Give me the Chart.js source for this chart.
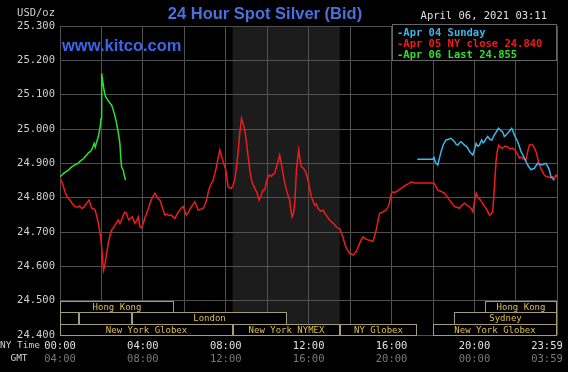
<!DOCTYPE html>
<html><head><meta charset="utf-8">
<script src="https://cdn.jsdelivr.net/npm/chart.js@4"></script>
<style>html,body{margin:0;padding:0;background:#000;overflow:hidden}canvas{display:block}</style>
</head><body><canvas id="c" width="568" height="372"></canvas>
<script>
const titleText = '24 Hour Spot Silver (Bid)';
const unitText = 'USD/oz';
const dateText = 'April 06, 2021 03:11';
const siteText = 'www.kitco.com';
const nyAxisName = 'NY Time';
const gmtAxisName = 'GMT';
const seriesNames = ['Apr 04 Sunday', 'Apr 05 NY close 24.840', 'Apr 06 Last 24.855'];
const nyTimeLabels = ['00:00','04:00','08:00','12:00','16:00','20:00','23:59'];
const gmtTimeLabels = ['04:00','08:00','12:00','16:00','20:00','00:00','03:59'];
const labelHours = [0,4,8,12,16,20,24];

// Apr 04 (Sunday) evening session
const apr04Hours = [17.24,17.6,17.99,18.05,18.1,18.15,18.23,18.31,18.39,18.5,18.63,18.75,18.87,18.95,19.04,19.12,19.2,19.28,19.36,19.44,19.52,19.6,19.68,19.76,19.84,19.92,20.0,20.08,20.16,20.24,20.3,20.35,20.42,20.48,20.56,20.64,20.74,20.84,20.9,20.96,21.06,21.16,21.26,21.36,21.44,21.52,21.6,21.7,21.8,21.87,21.93,22.01,22.09,22.17,22.25,22.33,22.41,22.49,22.57,22.65,22.73,22.81,22.89,22.97,23.05,23.15,23.25,23.35,23.45,23.53,23.61,23.69,23.78,23.86];
const apr04Values = [24.912,24.912,24.912,24.917,24.905,24.900,24.895,24.915,24.934,24.955,24.968,24.970,24.973,24.968,24.963,24.955,24.953,24.960,24.963,24.958,24.953,24.950,24.944,24.935,24.929,24.924,24.940,24.958,24.950,24.953,24.962,24.968,24.960,24.963,24.972,24.978,24.970,24.968,24.976,24.983,24.992,25.002,24.996,24.992,24.978,24.982,24.988,24.995,25.002,24.992,24.983,24.972,24.963,24.948,24.934,24.925,24.915,24.905,24.895,24.888,24.881,24.884,24.885,24.893,24.900,24.897,24.895,24.898,24.900,24.892,24.881,24.861,24.855,24.851];

// Apr 05 full day
const apr05Hours = [0,0.1,0.24,0.36,0.48,0.6,0.72,0.85,0.95,1.04,1.15,1.29,1.4,1.47,1.53,1.62,1.69,1.78,1.85,1.92,1.98,2.06,2.1,2.15,2.2,2.27,2.33,2.41,2.49,2.57,2.65,2.73,2.81,2.89,2.97,3.05,3.13,3.21,3.27,3.33,3.41,3.49,3.55,3.61,3.7,3.78,3.86,3.93,4.02,4.1,4.18,4.26,4.34,4.45,4.58,4.65,4.72,4.82,4.92,5.06,5.15,5.25,5.35,5.46,5.55,5.65,5.78,5.86,5.94,6.02,6.1,6.2,6.3,6.42,6.51,6.6,6.67,6.78,6.91,7.0,7.07,7.15,7.23,7.31,7.39,7.47,7.55,7.63,7.71,7.79,7.87,7.94,8.0,8.06,8.11,8.19,8.27,8.35,8.43,8.51,8.59,8.67,8.76,8.84,8.92,9.0,9.08,9.16,9.24,9.32,9.4,9.5,9.61,9.7,9.8,9.88,9.96,10.04,10.12,10.2,10.28,10.36,10.45,10.52,10.6,10.68,10.76,10.84,10.93,11.0,11.08,11.14,11.2,11.27,11.33,11.37,11.41,11.47,11.52,11.58,11.65,11.73,11.81,11.89,11.97,12.05,12.13,12.21,12.29,12.37,12.45,12.57,12.69,12.77,12.85,12.97,13.09,13.21,13.33,13.41,13.49,13.57,13.65,13.73,13.82,13.9,13.98,14.06,14.14,14.22,14.3,14.38,14.46,14.54,14.62,14.74,14.86,14.98,15.1,15.18,15.26,15.34,15.42,15.5,15.62,15.74,15.82,15.9,15.96,16.02,16.12,16.22,16.34,16.46,16.58,16.7,16.82,16.95,17.1,17.5,18.04,18.12,18.23,18.4,18.55,18.68,18.8,18.92,19.04,19.16,19.28,19.4,19.52,19.64,19.76,19.84,19.92,20.0,20.08,20.14,20.19,20.27,20.35,20.45,20.56,20.64,20.72,20.8,20.88,20.96,21.04,21.1,21.17,21.26,21.36,21.48,21.6,21.72,21.85,21.93,22.01,22.09,22.17,22.25,22.33,22.41,22.49,22.57,22.65,22.73,22.81,22.89,22.97,23.05,23.13,23.25,23.37,23.45,23.53,23.65,23.77,23.86,23.94,23.98];
const apr05Values = [24.856,24.845,24.817,24.800,24.793,24.782,24.774,24.772,24.776,24.769,24.772,24.784,24.793,24.780,24.769,24.768,24.764,24.745,24.725,24.700,24.677,24.618,24.589,24.600,24.618,24.645,24.667,24.690,24.706,24.712,24.720,24.728,24.735,24.725,24.735,24.749,24.758,24.754,24.742,24.735,24.740,24.744,24.735,24.725,24.733,24.744,24.715,24.712,24.725,24.742,24.754,24.768,24.784,24.800,24.813,24.805,24.798,24.793,24.775,24.749,24.752,24.748,24.750,24.744,24.740,24.752,24.764,24.770,24.774,24.762,24.749,24.758,24.770,24.780,24.788,24.775,24.764,24.766,24.769,24.780,24.793,24.815,24.832,24.842,24.851,24.870,24.890,24.915,24.939,24.922,24.905,24.892,24.881,24.855,24.832,24.828,24.827,24.836,24.851,24.885,24.929,24.985,25.031,25.015,24.997,24.960,24.919,24.880,24.851,24.838,24.827,24.815,24.793,24.805,24.822,24.822,24.845,24.861,24.866,24.862,24.868,24.871,24.890,24.905,24.924,24.900,24.871,24.845,24.822,24.808,24.793,24.765,24.744,24.755,24.784,24.830,24.881,24.915,24.939,24.912,24.890,24.886,24.881,24.868,24.851,24.826,24.803,24.790,24.778,24.782,24.769,24.760,24.764,24.755,24.749,24.738,24.730,24.724,24.715,24.712,24.710,24.698,24.686,24.668,24.652,24.645,24.638,24.636,24.633,24.638,24.643,24.655,24.667,24.678,24.686,24.680,24.677,24.675,24.672,24.688,24.706,24.730,24.754,24.756,24.760,24.764,24.772,24.784,24.805,24.817,24.815,24.817,24.822,24.827,24.832,24.837,24.841,24.846,24.843,24.843,24.843,24.835,24.822,24.818,24.813,24.803,24.793,24.783,24.774,24.772,24.769,24.778,24.784,24.778,24.774,24.768,24.759,24.790,24.813,24.805,24.798,24.795,24.788,24.778,24.769,24.760,24.749,24.752,24.759,24.827,24.905,24.935,24.953,24.946,24.944,24.950,24.948,24.942,24.944,24.940,24.934,24.925,24.915,24.918,24.915,24.912,24.910,24.935,24.953,24.955,24.953,24.945,24.934,24.915,24.895,24.880,24.866,24.862,24.861,24.858,24.861,24.857,24.866,24.862];

// Apr 06 so far
const apr06Hours = [0,0.1,0.2,0.3,0.4,0.5,0.6,0.7,0.8,0.88,0.96,1.05,1.15,1.22,1.29,1.36,1.45,1.53,1.59,1.65,1.7,1.76,1.85,1.94,1.98,2.0,2.01,2.02,2.06,2.1,2.15,2.2,2.3,2.41,2.49,2.57,2.65,2.73,2.81,2.89,2.93,2.97,3.01,3.05,3.1,3.16];
const apr06Values = [24.861,24.866,24.872,24.876,24.880,24.886,24.891,24.895,24.898,24.900,24.906,24.910,24.914,24.920,24.924,24.930,24.934,24.939,24.948,24.958,24.947,24.960,24.978,25.007,25.030,25.055,25.110,25.162,25.140,25.123,25.105,25.094,25.085,25.075,25.070,25.055,25.038,25.017,24.990,24.958,24.920,24.890,24.885,24.880,24.866,24.851];

// Trading sessions (hours, NY time) and rows
const sessionNames  = ['Hong Kong','Hong Kong','','','London','Sydney','New York Globex','New York NYMEX','NY Globex','New York Globex'];
const sessionRows   = [0,0,1,1,1,1,2,2,2,2];
const sessionStarts = [0,20.5,0,0.92,3.47,19,0,8.33,13.5,18];
const sessionEnds   = [5.5,24,0.92,3.47,10.94,24,8.33,13.5,17.25,24];
const shadedHours = [8.33, 13.5];

const seriesColors = ['#3cb6e8', '#ee1c1c', '#2ee02e'];
const mono = 'DejaVu Sans Mono';

const toPoints = (hs, vs) => hs.map((h, i) => ({x: h, y: vs[i]}));

const decor = {
  id: 'decor',
  beforeDraw(chart) {
    const {ctx, chartArea: a, scales: {x}} = chart;
    ctx.save();
    ctx.fillStyle = '#000';
    ctx.fillRect(0, 0, chart.width, chart.height);
    const x1 = x.getPixelForValue(shadedHours[0]), x2 = x.getPixelForValue(shadedHours[1]);
    ctx.fillStyle = '#1c1c1c';
    ctx.fillRect(x1, a.top, x2 - x1, a.bottom - a.top);
    ctx.restore();
  },
  afterDatasetsDraw(chart) {
    const {ctx, chartArea: a, scales: {x, y}} = chart;
    ctx.save();
    // session boxes
    const top0 = y.getPixelForValue(24.5);
    const rowH = (y.getPixelForValue(24.4) - top0) / 3;
    ctx.font = '9px "' + mono + '"';
    ctx.textAlign = 'center';
    ctx.textBaseline = 'middle';
    sessionNames.forEach((name, i) => {
      const bx1 = Math.round(x.getPixelForValue(sessionStarts[i]));
      const bx2 = Math.round(x.getPixelForValue(sessionEnds[i]));
      const by1 = Math.round(top0 + sessionRows[i] * rowH);
      const by2 = Math.round(top0 + (sessionRows[i] + 1) * rowH);
      ctx.fillStyle = '#000';
      ctx.fillRect(bx1, by1, bx2 - bx1, by2 - by1);
      ctx.strokeStyle = '#a39c78';
      ctx.lineWidth = 1;
      ctx.strokeRect(bx1 + 0.5, by1 + 0.5, bx2 - bx1 - 1, by2 - by1);
      if (name) {
        ctx.fillStyle = '#e2bf4e';
        ctx.fillText(name, (bx1 + bx2) / 2, (by1 + by2) / 2 + 1);
      }
    });
    // legend box
    const lx1 = Math.round(x.getPixelForValue(16)), lx2 = Math.round(a.right) - 1;
    const ly1 = a.top - 2, ly2 = Math.round(y.getPixelForValue(25.2));
    ctx.fillStyle = '#000';
    ctx.fillRect(lx1, ly1, lx2 - lx1, ly2 - ly1);
    ctx.strokeStyle = '#666';
    ctx.strokeRect(lx1 + 0.5, ly1 + 0.5, lx2 - lx1, ly2 - ly1);
    ctx.font = 'bold 10.5px "' + mono + '"';
    ctx.textAlign = 'left';
    seriesNames.forEach((n, i) => {
      ctx.fillStyle = seriesColors[i];
      ctx.fillText('-' + n, lx1 + 5, ly1 + 9 + i * 11);
    });
    // header texts
    ctx.fillStyle = '#d0d0d0';
    ctx.font = '10.5px "' + mono + '"';
    ctx.textAlign = 'right';
    ctx.fillText(unitText, 55, 13);
    ctx.fillStyle = '#e0e0e0';
    ctx.fillText(dateText, 547, 16);
    ctx.font = '9.5px "' + mono + '"';
    ctx.fillStyle = '#d0d0d0';
    ctx.fillText(nyAxisName, 40, 346);
    ctx.textAlign = 'center';
    ctx.fillText(gmtAxisName, 19, 359);
    ctx.font = 'bold 16.5px "Liberation Sans"';
    ctx.fillStyle = '#4a70e0';
    ctx.fillText(titleText, 265, 14);
    ctx.textAlign = 'left';
    ctx.fillStyle = '#3d66e6';
    ctx.fillText(siteText, 62, 46);
    ctx.restore();
  }
};

const labelAxis = (labels, color, weight, pad, height) => ({
  type: 'linear', position: 'bottom', min: 0, max: 24, weight: weight,
  afterBuildTicks: ax => { ax.ticks = labelHours.map(h => ({value: Math.min(h, 23.5)})); },
  ticks: {autoSkip: false, maxRotation: 0, minRotation: 0, color: color, padding: pad,
    font: {family: mono, size: 10.5}, callback: (v, i) => labels[i]},
  grid: {display: false, drawTicks: false},
  border: {display: false},
  afterFit: s => { s.height = height; }
});

new Chart(document.getElementById('c'), {
  type: 'line',
  data: {
    datasets: [
      {label: seriesNames[0], data: toPoints(apr04Hours, apr04Values), borderColor: seriesColors[0]},
      {label: seriesNames[1], data: toPoints(apr05Hours, apr05Values), borderColor: seriesColors[1]},
      {label: seriesNames[2], data: toPoints(apr06Hours, apr06Values), borderColor: seriesColors[2]}
    ]
  },
  options: {
    responsive: false, animation: false, devicePixelRatio: 1,
    datasets: {line: {borderWidth: 1.5, pointRadius: 0, tension: 0, fill: false}},
    layout: {padding: {left: 0, right: 10, top: 26, bottom: 0}},
    plugins: {legend: {display: false}, tooltip: {enabled: false}, title: {display: false}},
    scales: {
      y: {type: 'linear', min: 24.4, max: 25.3,
        ticks: {stepSize: 0.1, color: '#d0d0d0', padding: 5, font: {family: mono, size: 10.5},
          callback: v => v.toFixed(3)},
        grid: {color: '#505050', drawTicks: false},
        border: {display: false},
        afterFit: s => { s.width = 60; }},
      x: {type: 'linear', position: 'bottom', min: 0, max: 24, weight: 0,
        ticks: {display: false, stepSize: 2, autoSkip: false},
        grid: {color: '#505050', drawTicks: false},
        border: {display: false},
        afterFit: s => { s.height = 0; }},
      xny: labelAxis(nyTimeLabels, '#e0e0e0', 1, 5, 17),
      xgmt: labelAxis(gmtTimeLabels, '#7a7a7a', 2, 1, 20)
    }
  },
  plugins: [decor]
});
</script>
</body></html>
